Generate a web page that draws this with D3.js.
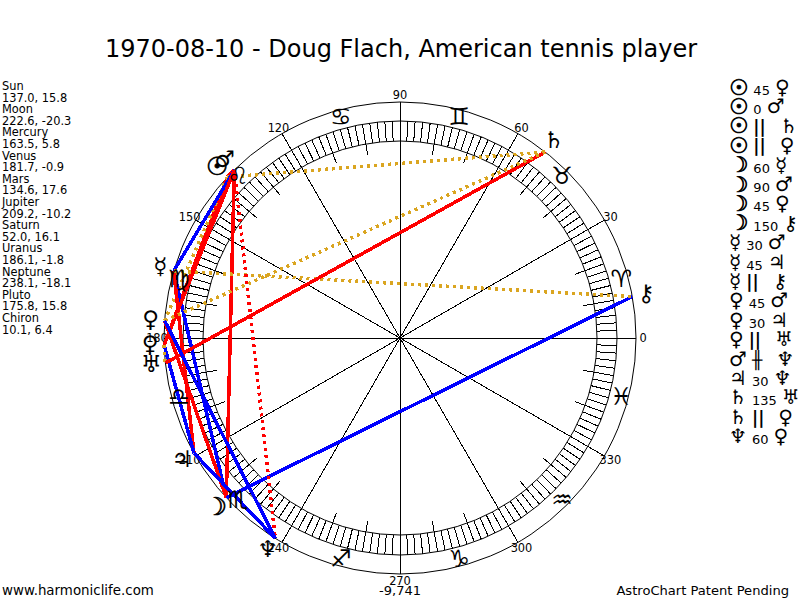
<!DOCTYPE html>
<html><head><meta charset="utf-8">
<script src="https://cdn.jsdelivr.net/npm/d3@7"></script>
<style>html,body{margin:0;background:#fff}svg{display:block}text{font-family:"DejaVu Sans",sans-serif;fill:#000}</style>
</head><body><svg id="c" width="800" height="600"></svg>
<script>
const title = "1970-08-10 - Doug Flach, American tennis player";
const planetNames = ["Sun","Moon","Mercury","Venus","Mars","Jupiter","Saturn","Uranus","Neptune","Pluto","Chiron"];
const longitudes = [137.0,222.6,163.5,181.7,134.6,209.2,52.0,186.1,238.1,175.8,10.1];
const declinations = [15.8,-20.3,5.8,-0.9,17.6,-10.2,16.1,-1.8,-18.1,15.8,6.4];
const planetGlyphs = ["☉","☽","☿","♀","♂","♃","♄","♅","♆","♀","⚷"];
const signGlyphs = ["♈","♉","♊","♋","♌","♍","♎","♏","♐","♑","♒","♓"];
const degreeTicks = d3.range(0,360,30);
const aspectFrom = ["Sun","Sun","Sun","Sun","Moon","Moon","Moon","Moon","Mercury","Mercury","Mercury","Venus","Venus","Venus","Mars","Jupiter","Saturn","Saturn","Neptune"];
const aspectLabel = ["45","0","||","||","60","90","45","150","30","45","||","45","30","||","##","30","135","||","60"];
const aspectTo = ["Venus","Mars","Saturn","Pluto","Mercury","Mars","Pluto","Chiron","Mars","Jupiter","Chiron","Mars","Jupiter","Uranus","Neptune","Neptune","Uranus","Pluto","Pluto"];
const footerLeft = "www.harmoniclife.com", footerMid = "-9,741", footerRight = "AstroChart Patent Pending";

const svg = d3.select("#c");
const cx = 400, cy = 338, R = 236, ringOut = 217, ringIn = 197, tickIn = 186;
const angle = d3.scaleLinear().domain([0,360]).range([0,2*Math.PI]);
const px = (lon,r)=>cx+r*Math.cos(angle(lon));
const py = (lon,r)=>cy-r*Math.sin(angle(lon));
const lonOf = n=>longitudes[planetNames.indexOf(n)];
const glyphOf = n=>planetGlyphs[planetNames.indexOf(n)];
const aspects = aspectFrom.map((f,i)=>({f,t:aspectTo[i],l:aspectLabel[i]}));
// Sun and Moon are heavier than the other glyphs in the reference
const heavy = g=>g==="☉"||g==="☽";
const glyph = (parent,g,x,y,size,anchor)=>{
  const t = parent.append("text").attr("x",x).attr("y",y+(heavy(g)?size*0.03:0)).attr("font-size",size*(heavy(g)?1.08:1)).text(g);
  if(anchor) t.attr("text-anchor",anchor);
  if(heavy(g)) t.attr("stroke","#000").attr("stroke-width",0.7);
  return t;
};

svg.append("text").attr("x",401).attr("y",57).attr("text-anchor","middle").attr("font-size",24).text(title);

const left = svg.append("g").attr("font-size",11.4);
planetNames.forEach((n,i)=>{
  left.append("text").attr("x",2).attr("y",90+i*23.2).text(n);
  left.append("text").attr("x",2).attr("y",101.6+i*23.2).text(longitudes[i].toFixed(1)+", "+declinations[i].toFixed(1));
});

const chart = svg.append("g").attr("fill","none").attr("stroke","#000").attr("shape-rendering","crispEdges");
[R,ringOut,ringIn].forEach(r=>chart.append("circle").attr("cx",cx).attr("cy",cy).attr("r",r).attr("shape-rendering","geometricPrecision"));
const line = (lon,a,b,g=chart)=>g.append("line").attr("x1",px(lon,a)).attr("y1",py(lon,a)).attr("x2",px(lon,b)).attr("y2",py(lon,b));
d3.range(0,360,2).forEach(d=>line(d,ringIn,ringOut));
d3.range(0,360,10).forEach(d=>line(d,tickIn,ringIn));
degreeTicks.forEach(d=>line(d,0,R));

const labels = svg.append("g").attr("font-size",11.4).attr("text-anchor","middle");
degreeTicks.forEach(d=>labels.append("text").attr("x",px(d,243)).attr("y",py(d,243)+4).text(d));

const style = a=>{
  if(a.l==="||") return {c:"#daa520",d:"3 4"};
  if(a.l==="##") return {c:"#ff0000",d:"3 4"};
  if(["30","60","150"].includes(a.l)) return {c:"#0000ff",d:null};
  return {c:"#ff0000",d:null};
};
const aspectG = svg.append("g").attr("fill","none").attr("stroke-width",3.5).attr("shape-rendering","crispEdges");
aspects.forEach(a=>{
  const s=style(a), p=lonOf(a.f), q=lonOf(a.t);
  aspectG.append("line").attr("x1",px(p,R)).attr("y1",py(p,R)).attr("x2",px(q,R)).attr("y2",py(q,R))
    .attr("stroke",s.c).attr("stroke-dasharray",s.d);
});

const signs = svg.append("g").attr("font-size",24).attr("text-anchor","middle");
signGlyphs.forEach((g,i)=>signs.append("text").attr("x",px(15+30*i,229)).attr("y",py(15+30*i,229)+8).text(g));

const planets = svg.append("g").attr("text-anchor","middle");
planetGlyphs.forEach((g,i)=>glyph(planets,g,px(longitudes[i],250),py(longitudes[i],250)+7,23,"middle"));

const list = svg.append("g");
aspects.forEach((a,i)=>{
  const y = 94+i*19.4;
  let x = 729;
  const put=(txt,size,gap,bold,dy)=>{
    const t=list.append("text").attr("x",x).attr("y",y+dy).attr("font-size",size).text(txt);
    if(bold) t.attr("font-weight","bold");
    x+=t.node().getComputedTextLength()+gap;
  };
  const putGlyph=(g,gap)=>{
    const t=glyph(list,g,x,y,20);
    x+=t.node().getComputedTextLength()+gap;
  };
  putGlyph(glyphOf(a.f),5);
  if(a.l==="||") put("||",17,14,true,0);
  else if(a.l==="##") put("╫",17,14,true,0);
  else put(a.l,13,5,false,1);
  putGlyph(glyphOf(a.t),0);
});

const foot = svg.append("g").attr("font-size",13);
foot.append("text").attr("x",2).attr("y",595).attr("font-size",13.4).text(footerLeft);
foot.append("text").attr("x",400).attr("y",595).attr("text-anchor","middle").text(footerMid);
foot.append("text").attr("x",789).attr("y",595).attr("text-anchor","end").attr("font-size",13.1).text(footerRight);
</script></body></html>
